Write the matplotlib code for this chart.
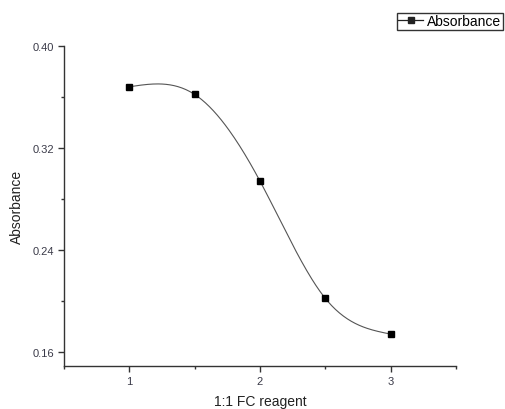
import numpy as np
import matplotlib.pyplot as plt
from matplotlib.ticker import MultipleLocator

plt.rcParams['font.family'] = ['Liberation Sans', 'DejaVu Sans']

# data
fc_reagent = [1.0, 1.5, 2.0, 2.5, 3.0]
absorbance = [0.368, 0.362, 0.294, 0.202, 0.174]


def natural_spline(x, y, n=200):
    # smooth connecting line through the points (natural cubic spline)
    x = np.asarray(x, float)
    y = np.asarray(y, float)
    m = len(x)
    h = np.diff(x)
    A = np.zeros((m, m))
    b = np.zeros(m)
    A[0, 0] = A[-1, -1] = 1
    for i in range(1, m - 1):
        A[i, i - 1] = h[i - 1]
        A[i, i] = 2 * (h[i - 1] + h[i])
        A[i, i + 1] = h[i]
        b[i] = 3 * ((y[i + 1] - y[i]) / h[i] - (y[i] - y[i - 1]) / h[i - 1])
    c = np.linalg.solve(A, b)
    xs = np.linspace(x[0], x[-1], n)
    ys = np.empty_like(xs)
    for k, xv in enumerate(xs):
        i = min(np.searchsorted(x, xv, side='right') - 1, m - 2)
        d = (c[i + 1] - c[i]) / (3 * h[i])
        bb = (y[i + 1] - y[i]) / h[i] - h[i] * (2 * c[i] + c[i + 1]) / 3
        t = xv - x[i]
        ys[k] = y[i] + bb * t + c[i] * t ** 2 + d * t ** 3
    return xs, ys


fig = plt.figure(figsize=(5.06, 4.10), dpi=100)
ax = fig.add_axes([0.1265, 0.1049, 0.7747, 0.7805])

xs, ys = natural_spline(fc_reagent, absorbance)
ax.plot(xs, ys, color='#555555', lw=0.8)
ax.plot(fc_reagent, absorbance, ls='none', marker='s', ms=5, color='black')

# legend proxy
ax.plot([], [], color='#222222', lw=0.9, marker='s', ms=5, label='Absorbance')

ax.set_xlim(0.5, 3.5)
ax.set_ylim(0.149, 0.40)
ax.xaxis.set_major_locator(MultipleLocator(1))
ax.xaxis.set_minor_locator(MultipleLocator(0.5))
ax.set_yticks([0.16, 0.24, 0.32, 0.40])
ax.set_yticks([0.20, 0.28, 0.36], minor=True)
ax.set_yticklabels(['0.16', '0.24', '0.32', '0.40'])

for s in ['top', 'right']:
    ax.spines[s].set_visible(False)
for s in ['left', 'bottom']:
    ax.spines[s].set_color('#333333')
    ax.spines[s].set_linewidth(1.0)

ax.tick_params(which='major', direction='out', length=4, width=1,
               color='#333333', labelsize=8, labelcolor='#3a3a48', pad=3)
ax.tick_params(which='minor', direction='out', length=2.5, width=1,
               color='#333333')

ax.set_xlabel('1:1 FC reagent', fontsize=10, labelpad=6, color='#222222')
ax.set_ylabel('Absorbance', fontsize=10, labelpad=6, color='#222222')

fig.legend(loc='upper right', bbox_to_anchor=(0.994, 0.966), fontsize=10,
           frameon=True, fancybox=False, edgecolor='#333333', framealpha=1,
           handlelength=1.8, handletextpad=0.3, borderpad=0.1,
           borderaxespad=0)

fig.savefig('out.png', dpi=100)
